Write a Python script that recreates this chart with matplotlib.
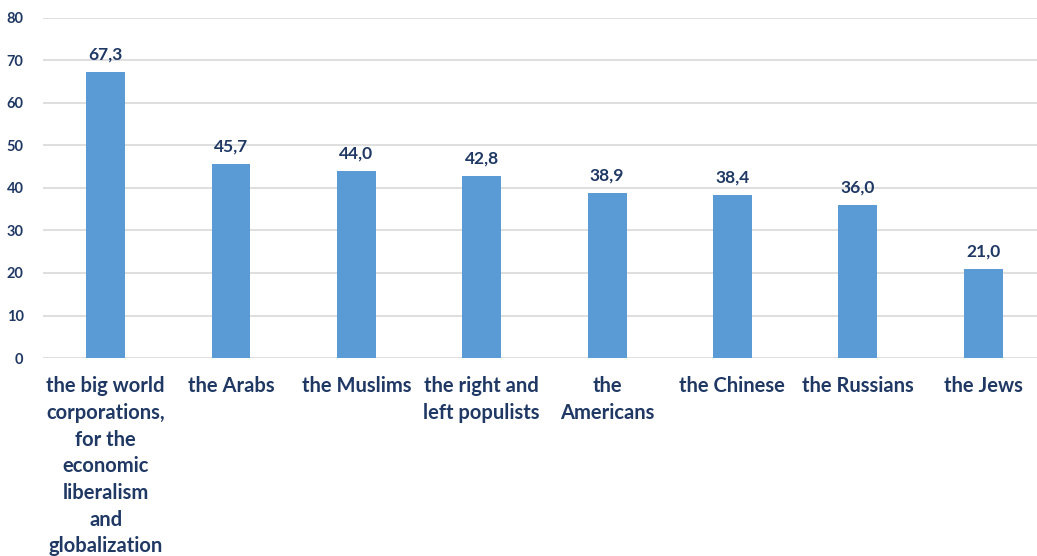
import matplotlib.pyplot as plt

categories = ['the big world\ncorporations,\nfor the\neconomic\nliberalism\nand\nglobalization',
              'the Arabs', 'the Muslims', 'the right and\nleft populists', 'the\nAmericans',
              'the Chinese', 'the Russians', 'the Jews']
values = [67.3, 45.7, 44.0, 42.8, 38.9, 38.4, 36.0, 21.0]
yticks = [0, 10, 20, 30, 40, 50, 60, 70, 80]

navy = '#1F3864'
plt.rcParams['font.family'] = ['Lato', 'DejaVu Sans']
plt.rcParams['font.weight'] = 'bold'

fig = plt.figure(figsize=(10.37, 5.56), dpi=100)
ax = fig.add_axes([0.0415, 0.356, 0.9585, 0.612])

x = range(len(categories))
ax.bar(x, values, width=0.31, color='#5B9BD5', zorder=3)
for i, v in zip(x, values):
    ax.text(i, v + 2.2, f'{v:.1f}'.replace('.', ','), ha='center', va='bottom',
            fontsize=12.5, fontweight='bold', color=navy)

ax.set_ylim(0, 80)
ax.set_xlim(-0.5, 7.43)
ax.set_yticks(yticks)
ax.set_yticklabels([str(t) for t in yticks], fontsize=10.5, fontweight='bold', color=navy)
ax.set_xticks(list(x))
ax.set_xticklabels(categories, fontsize=14.5, fontweight='bold', color=navy, linespacing=1.42)
ax.tick_params(axis='both', length=0)
ax.tick_params(axis='y', pad=14)
ax.tick_params(axis='x', pad=13)
ax.grid(axis='y', color='#D9D9D9', linewidth=1.2, zorder=0)
for s in ax.spines.values():
    s.set_visible(False)

fig.savefig('out.png', dpi=100)
